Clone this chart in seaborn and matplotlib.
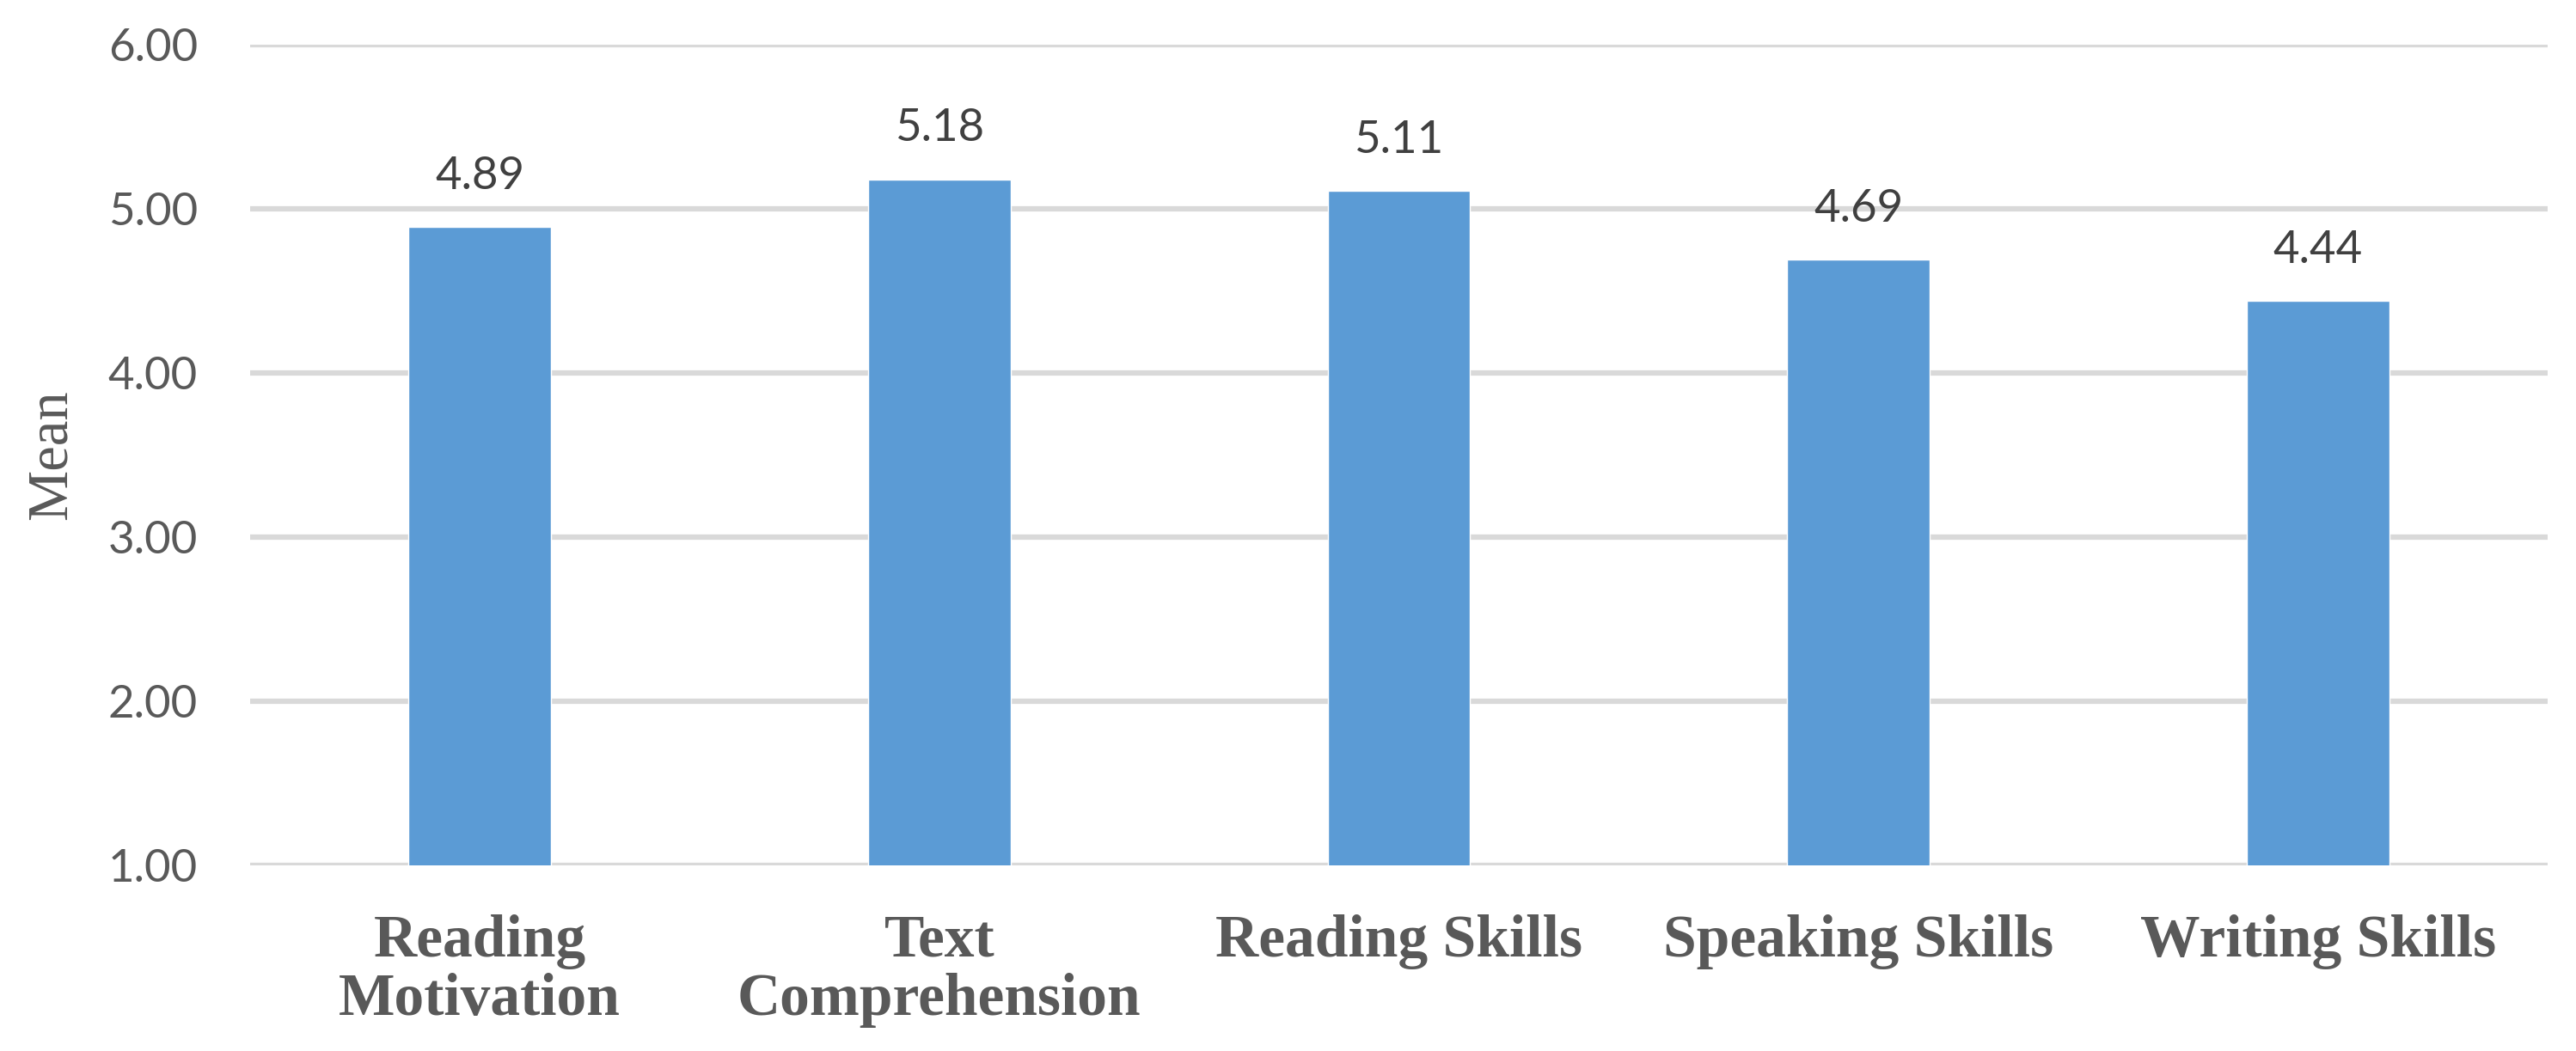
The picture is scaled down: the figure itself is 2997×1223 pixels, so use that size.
import matplotlib
matplotlib.use("Agg")
import matplotlib.pyplot as plt
import seaborn as sns
import pandas as pd

# ---- data ----
categories = ["Reading\nMotivation", "Text\nComprehension", "Reading Skills",
              "Speaking Skills", "Writing Skills"]
means = [4.89, 5.18, 5.11, 4.69, 4.44]
y_ticks = [1.0, 2.0, 3.0, 4.0, 5.0, 6.0]
y_tick_labels = ["1.00", "2.00", "3.00", "4.00", "5.00", "6.00"]

df = pd.DataFrame({"category": categories, "mean": means})

sns.set_theme(style="white")
plt.rcParams["font.family"] = ["Lato", "DejaVu Sans"]

fig = plt.figure(figsize=(29.97, 12.23), dpi=100)
ax = fig.add_axes([0.0971, 0.1766, 0.8919, 0.7809])

sns.barplot(data=df, x="category", y="mean", ax=ax, color="#5B9BD5",
            saturation=1, width=0.31, zorder=3)

# axis starts at 1.00, bars are cut at the baseline
ax.set_ylim(1, 6)
ax.set_yticks(y_ticks)
ax.set_yticklabels(y_tick_labels, fontsize=38, color="#595959")
ax.tick_params(axis="y", length=0, pad=44)
ax.tick_params(axis="x", length=0, pad=41)

for lbl in ax.get_xticklabels():
    lbl.set_fontfamily("Liberation Serif")
    lbl.set_fontweight("bold")
    lbl.set_fontsize(50)
    lbl.set_color("#595959")
    lbl.set_linespacing(1.08)

ax.yaxis.grid(True, color="#D9D9D9", linewidth=4.5, zorder=0)
ax.set_axisbelow(True)
for s in ax.spines.values():
    s.set_visible(False)

ax.set_xlabel("")
ax.set_ylabel("Mean", fontfamily="Liberation Serif", fontsize=48, color="#595959")
ax.yaxis.set_label_coords(-0.075, 0.5)

# value labels above bars
for i, v in enumerate(means):
    ax.annotate(f"{v:.2f}", xy=(i, v), xytext=(0, 32), textcoords="offset points",
                ha="center", va="baseline", fontsize=38, color="#404040")

fig.savefig("out.png", dpi=100)
